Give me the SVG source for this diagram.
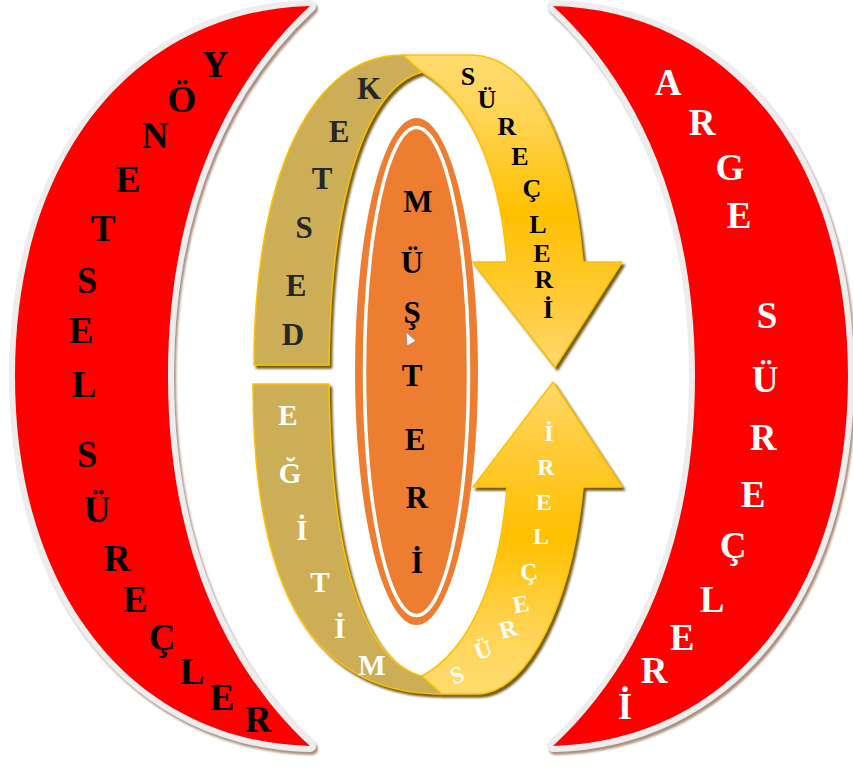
<svg xmlns="http://www.w3.org/2000/svg" width="853" height="768" viewBox="0 0 853 768">
<defs>
<filter id="crShadow" x="-10%" y="-10%" width="125%" height="125%">
<feDropShadow dx="2" dy="3" stdDeviation="1.2" flood-color="#9c7a63" flood-opacity="0.85"/>
</filter>
<filter id="arShadow" x="-10%" y="-10%" width="125%" height="125%">
<feDropShadow dx="2.5" dy="3" stdDeviation="0.8" flood-color="#6b5200" flood-opacity="0.95"/>
</filter>
<linearGradient id="gUp" gradientUnits="userSpaceOnUse" x1="0" y1="55" x2="0" y2="367">
<stop offset="0" stop-color="#FFDC70"/>
<stop offset="0.2" stop-color="#FFD455"/>
<stop offset="0.5" stop-color="#FFC000"/>
<stop offset="0.8" stop-color="#FFCB3A"/>
<stop offset="1" stop-color="#FFDA6E"/>
</linearGradient>
<linearGradient id="gDown" gradientUnits="userSpaceOnUse" x1="0" y1="694" x2="0" y2="382">
<stop offset="0" stop-color="#FFDC70"/>
<stop offset="0.2" stop-color="#FFD455"/>
<stop offset="0.5" stop-color="#FFC000"/>
<stop offset="0.8" stop-color="#FFCB3A"/>
<stop offset="1" stop-color="#FFDA6E"/>
</linearGradient>
</defs>
<style>
.cres{fill:#FF0000;stroke:#EDEDED;stroke-width:12;stroke-linejoin:round;paint-order:stroke;filter:url(#crShadow)}
.tan{fill:#CCAE56;stroke:#FFC000;stroke-width:1.5;stroke-linejoin:round}
.yel{stroke:#FFC000;stroke-width:1.5;stroke-linejoin:round}
.t{font-family:"Liberation Serif","Times New Roman",serif;font-weight:bold;text-anchor:middle}
.big{font-size:37px}
.mid{font-size:31px}
.eg{font-size:29px}
.sm{font-size:26px}
.xs{font-size:24px}
.blk{fill:#000}
.dk{fill:#262626}
.wht{fill:#fff}
</style>
<rect width="853" height="768" fill="#fff"/>

<g id="left-crescent">
<path class="cres" d="M310,6 C140,10 15,150 15,376 C15,602 140,742 310,746 C230,672 168,552 168,376 C168,200 230,80 310,6 Z"/>
<g class="t big blk">
<text x="215" y="77">Y</text>
<text x="182" y="112">Ö</text>
<text x="155" y="148">N</text>
<text x="128" y="192">E</text>
<text x="103" y="241">T</text>
<text x="87" y="293">S</text>
<text x="81" y="343">E</text>
<text x="84" y="397">L</text>
<text x="87" y="467">S</text>
<text x="97" y="522">Ü</text>
<text x="117" y="571">R</text>
<text x="135" y="612">E</text>
<text x="162" y="650">Ç</text>
<text x="192" y="684">L</text>
<text x="222" y="710">E</text>
<text x="258" y="732">R</text>
</g>
</g>

<g id="right-crescent">
<path class="cres" d="M553,6 C723,10 848,150 848,376 C848,602 723,742 553,746 C633,672 695,552 695,376 C695,200 633,80 553,6 Z"/>
<g class="t big wht">
<text x="668" y="95">A</text>
<text x="702" y="135">R</text>
<text x="730" y="180">G</text>
<text x="739" y="228">E</text>
<text x="767" y="328">S</text>
<text x="765" y="392">Ü</text>
<text x="763" y="450">R</text>
<text x="753" y="507">E</text>
<text x="733" y="558">Ç</text>
<text x="712" y="612">L</text>
<text x="682" y="650">E</text>
<text x="654" y="683">R</text>
<text x="625" y="719">İ</text>
</g>
</g>

<g id="connectors">
<g id="upper-arrow" filter="url(#arShadow)">
<path class="tan" d="M254,365 C254,200 300,55 403,55 L422,72 C365,88 330,200 329,365 Z"/>
<path class="yel" fill="url(#gUp)" d="M403,55 L473,55 C535,58 573,150 583,262 L622,262 L555,367 L473,262 L507,262 C500,170 470,100 422,72 Z"/>
</g>
<g id="lower-arrow" filter="url(#arShadow)">
<path class="tan" d="M253,384 L329,384 C330,560 365,662 422,676 L442,694 C295,694 253,560 253,384 Z"/>
<path class="yel" fill="url(#gDown)" d="M442,694 L478,694 C530,692 572,600 583,487 L622,487 L553,382 L473,487 L507,487 C500,580 470,650 422,676 Z"/>
</g>
</g>

<g id="destek-label" class="t mid dk">
<text x="369" y="99">K</text>
<text x="339" y="142">E</text>
<text x="322" y="189">T</text>
<text x="304" y="238">S</text>
<text x="296" y="296">E</text>
<text x="293" y="345">D</text>
</g>
<g id="upper-surecleri-label" class="t sm blk">
<text x="468" y="85">S</text>
<text x="487" y="108">Ü</text>
<text x="507" y="135">R</text>
<text x="520" y="165">E</text>
<text x="532" y="197">Ç</text>
<text x="538" y="233">L</text>
<text x="542" y="262">E</text>
<text x="544" y="288">R</text>
<text x="548" y="318">İ</text>
</g>
<g id="egitim-label" class="t eg wht">
<text x="288" y="425">E</text>
<text x="290" y="483">Ğ</text>
<text x="302" y="540">İ</text>
<text x="320" y="592">T</text>
<text x="340" y="638">İ</text>
<text x="372" y="675">M</text>
</g>
<g id="lower-surecleri-label" class="t xs wht">
<text x="549" y="441">İ</text>
<text x="546" y="475">R</text>
<text x="544" y="510">E</text>
<text x="541" y="544">L</text>
<text x="529" y="580" transform="rotate(-6 529 572)">Ç</text>
<text x="521" y="612" transform="rotate(-10 521 604)">E</text>
<text x="508" y="637" transform="rotate(-15 508 629)">R</text>
<text x="483" y="658" transform="rotate(-18 483 650)">Ü</text>
<text x="457" y="683" transform="rotate(-20 457 675)">S</text>
</g>

<g id="musteri">
<ellipse cx="416.5" cy="371.5" rx="61.5" ry="253.5" fill="#ED7D31"/>
<ellipse cx="416.5" cy="371.5" rx="52" ry="244" fill="none" stroke="#fff" stroke-width="3.5"/>
<g class="t mid blk">
<text x="418" y="212">M</text>
<text x="412" y="273">Ü</text>
<text x="412" y="323">Ş</text>
<text x="412" y="386">T</text>
<text x="415" y="450">E</text>
<text x="417" y="508">R</text>
<text x="417" y="573">İ</text>
</g>
<polygon points="406,332 416,341 407,346" fill="#f2f2f2" stroke="#8a8a8a" stroke-width="0.8"/>
</g>
</svg>
